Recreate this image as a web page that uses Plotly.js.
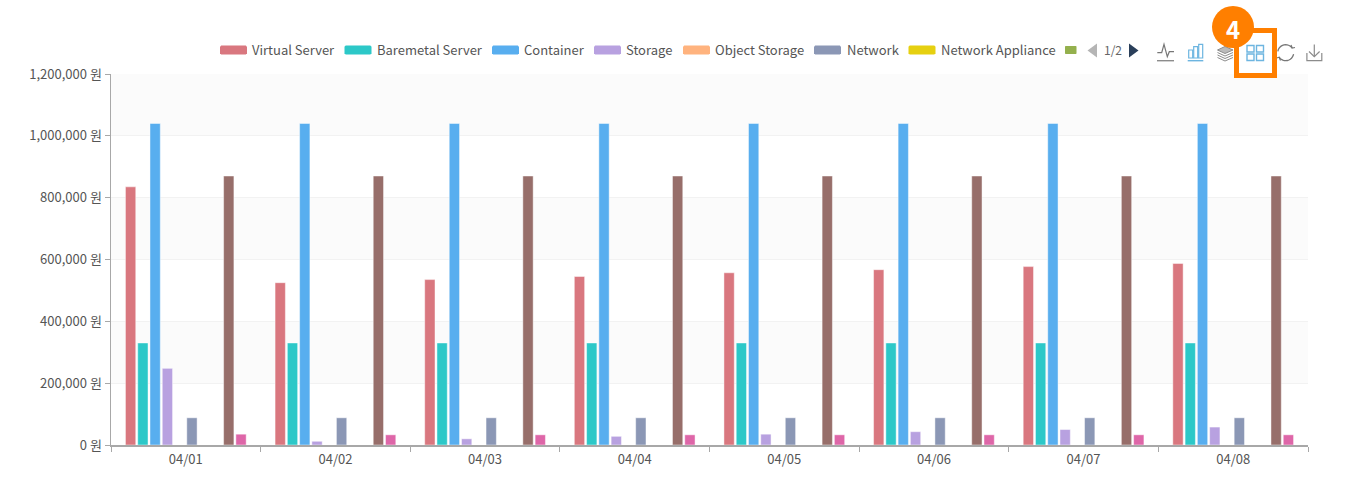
<!DOCTYPE html>
<html><head><meta charset="utf-8">
<script src="https://cdn.plot.ly/plotly-3.0.1.min.js"></script>
<style>html,body{margin:0;padding:0;background:#fff;overflow:hidden}#c{width:1360px;height:493px}</style>
</head><body><div id="c"></div>
<script>
const categories = ['04/01','04/02','04/03','04/04','04/05','04/06','04/07','04/08'];
const virtualServer = [835000,525000,535000,545000,557000,567000,577000,587000];
const baremetalServer = [330000,330000,330000,330000,330000,330000,330000,330000];
const container = [1040000,1040000,1040000,1040000,1040000,1040000,1040000,1040000];
const storage = [248000,12000,20000,28000,35000,43000,50000,58000];
const objectStorage = [0,0,0,0,0,0,0,0];
const network = [88000,88000,88000,88000,88000,88000,88000,88000];
const networkAppliance = [0,0,0,0,0,0,0,0];
const series8 = [0,0,0,0,0,0,0,0];
const series9 = [870000,870000,870000,870000,870000,870000,870000,870000];
const series10 = [35000,33000,33000,33000,33000,33000,33000,33000];
const seriesNames = ['Virtual Server','Baremetal Server','Container','Storage','Object Storage','Network','Network Appliance','','',''];
const seriesValues = [virtualServer,baremetalServer,container,storage,objectStorage,network,networkAppliance,series8,series9,series10];
const seriesColors = ['#d9777f','#2cc8c8','#58aeef','#b8a1e0','#ffb37e','#8b97b5','#e6d010','#94b04d','#976e6a','#de66a8'];
const yTicks = [0,200000,400000,600000,800000,1000000,1200000];
const yTickLabels = ['0 원','200,000 원','400,000 원','600,000 원','800,000 원','1,000,000 원','1,200,000 원'];

const W=1360,H=493,L=111,R=1308,T=74,B=445;
const px=x=>(x-L)/(R-L), py=y=>(B-y)/(B-T);
const P=(...pts)=>pts.map((p,i)=>(i?'L':'M')+px(p[0])+','+py(p[1])).join(' ');
const shapes=[], annotations=[];
// alternating plot bands
for(let i=0;i<yTicks.length-1;i+=2){
  const a=yTicks[yTicks.length-1-i], b=yTicks[yTicks.length-2-i];
  shapes.push({type:'rect',xref:'paper',yref:'y',x0:0,x1:1,y0:b,y1:a,fillcolor:'#fbfbfb',line:{width:0},layer:'below'});
}
const pline=(pts,color,w=1.2,close=false,fill)=>shapes.push({type:'path',xref:'paper',yref:'paper',
  path:P(...pts)+(close?' Z':''),line:{color,width:w},fillcolor:fill||'rgba(0,0,0,0)',layer:'above'});
const text=(x,y,t,o={})=>annotations.push(Object.assign({xref:'paper',yref:'paper',x:px(x),y:py(y),text:t,showarrow:false,
  xanchor:'left',yanchor:'middle',borderpad:0,font:{family:'"Noto Sans CJK KR","Noto Sans",sans-serif',size:13,color:'#555'}},o));
const round=(x0,y0,x1,y1,color,r=1.2)=>{
  pline([[x0+r,y0],[x1-r,y0],[x1,y0+r],[x1,y1-r],[x1-r,y1],[x0+r,y1],[x0,y1-r],[x0,y0+r]],color,0,true,color);};
// legend
const swatchX=[220,344.5,492,594,683,814,908.5];
const labelX=[251,376,523,625,714,846,940];
seriesNames.slice(0,7).forEach((n,i)=>{round(swatchX[i],45.5,swatchX[i]+27,54.5,seriesColors[i]);text(labelX[i],49.5,n);});
round(1065,46,1076.5,54,seriesColors[7],0.6);
// pager
pline([[1097,43.5],[1097,57.5],[1087.5,50.5]],'#b5b5b5',0,true,'#b5b5b5');
text(1113,49.5,'1/2',{xanchor:'center',font:{family:'"Noto Sans CJK KR","Noto Sans",sans-serif',size:12,color:'#666'}});
pline([[1129,43.5],[1129,57.5],[1138.5,50.5]],'#2a3f5a',0,true,'#2a3f5a');
// toolbar icons
const g='#8c8c8c', b='#6db5e0';
pline([[1157.3,52.7],[1161.7,52.7],[1164,44.3],[1167.3,56.7],[1169.3,51.7],[1174,51.7]],'#777');
pline([[1157,60.7],[1174,60.7]],g,1.4);
[[1188.7,50],[1193.7,46.7],[1198.7,44.3]].forEach(([x,t])=>pline([[x,58],[x,t],[x+4,t],[x+4,58]],b,1.2,true));
pline([[1187.7,60.7],[1203.3,60.7]],b,1.4);
pline([[1217.5,50],[1225,46.5],[1233,50],[1225,53.5]],g,1,true,'#bbb');
pline([[1217.5,52.5],[1225,56],[1233,52.5]],g,1);
pline([[1217.5,55],[1225,58.5],[1233,55]],g,1);
pline([[1217.5,57.5],[1225,61],[1233,57.5]],g,1);
[[1247,45.5],[1256.5,45.5],[1247,54],[1256.5,54]].forEach(([x,y])=>pline([[x,y],[x+7,y],[x+7,y+6.5],[x,y+6.5]],b,1.4,true));
const arc=(a0,a1)=>{const pts=[];for(let k=0;k<=12;k++){const a=(a0+(a1-a0)*k/12)*Math.PI/180;pts.push([1285.7+8*Math.cos(a),52.7-8*Math.sin(a)]);}return pts;};
pline(arc(35,170),'#777',1.3); pline(arc(215,350),'#777',1.3);
pline([[1291,45],[1292.2,48],[1295,47.5]],'#777');
pline([[1276.5,58],[1279.2,57.2],[1280.5,60.5]],'#777');
pline([[1314.3,44.5],[1314.3,56.5]],g); pline([[1309,51.5],[1314.3,56.7],[1319.6,51.5]],g);
pline([[1306.9,53],[1306.9,60.7],[1321.8,60.7],[1321.8,53]],g);
// callout
const orange='#ff7f00';
pline([[1236.5,30.5],[1274.5,30.5],[1274.5,75.5],[1236.5,75.5]],orange,5,true);
shapes.push({type:'circle',xref:'paper',yref:'paper',x0:px(1212),x1:px(1254),y0:py(48),y1:py(6),fillcolor:orange,line:{width:0},layer:'above'});
text(1233,28,'<b>4</b>',{xanchor:'center',font:{family:'"Noto Sans CJK KR","Noto Sans",sans-serif',size:24,color:'#fff'}});

const data=seriesValues.map((v,i)=>({type:'bar',x:categories,y:v,name:seriesNames[i]||('Series '+(i+1)),
  marker:{color:seriesColors[i],line:{color:'rgba(255,255,255,0.45)',width:1}},hoverinfo:'skip'}));
Plotly.newPlot('c',data,{
  width:W,height:H,margin:{l:L,r:W-R,t:T,b:H-B,pad:0},
  paper_bgcolor:'#fff',plot_bgcolor:'#fff',showlegend:false,barmode:'group',bargap:0.18,bargroupgap:0.16,
  font:{family:'"Noto Sans CJK KR","Noto Sans",sans-serif',size:13,color:'#555'},
  xaxis:{type:'category',tickson:'boundaries',ticks:'outside',ticklen:5,tickcolor:'#a8a8a8',tickwidth:1,showline:true,linecolor:'#a8a8a8',linewidth:1.5,showgrid:false,zeroline:false,ticklabelstandoff:2,tickfont:{size:13,color:'#555'}},
  yaxis:{range:[0,1200000],tickmode:'array',tickvals:yTicks,ticktext:yTickLabels,ticks:'outside',ticklen:5,tickcolor:'#a8a8a8',showline:true,linecolor:'#a8a8a8',linewidth:1.5,gridcolor:'#f2f2f2',zeroline:false,ticklabelstandoff:0,tickfont:{size:13,color:'#555'}},
  shapes,annotations
},{displayModeBar:false,staticPlot:true});
</script></body></html>
